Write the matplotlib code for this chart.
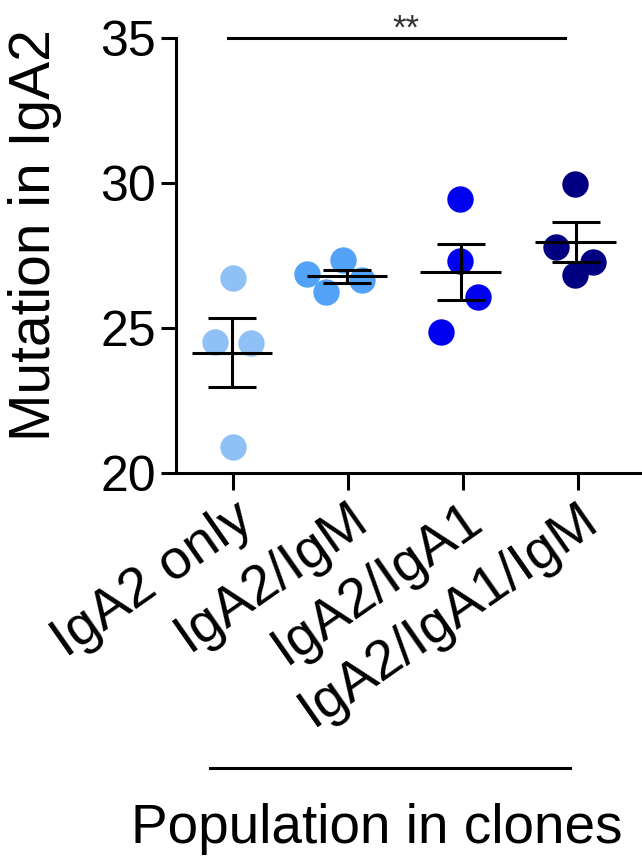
import numpy as np
import matplotlib
matplotlib.use("Agg")
import matplotlib.pyplot as plt
from matplotlib.lines import Line2D

plt.rcParams['font.family'] = ['Liberation Sans', 'DejaVu Sans']

# data
groups = ['IgA2 only', 'IgA2/IgM', 'IgA2/IgA1', 'IgA2/IgA1/IgM']
mutations = [
    [26.72, 24.52, 24.48, 20.90],
    [26.86, 27.34, 26.25, 26.66],
    [29.44, 27.32, 26.08, 24.87],
    [29.97, 27.80, 27.29, 26.83],
]
colors = ['#8fc1f7', '#52a2f7', '#0000f0', '#000080']
yticks = [20, 25, 30, 35]

# layout of the scatter (jitter within a column)
jitter = [
    [0.0, -0.16, 0.16, 0.0],
    [-0.36, -0.04, -0.19, 0.12],
    [-0.03, -0.03, 0.13, -0.19],
    [-0.03, -0.19, 0.13, -0.03],
]
bar_shift = [-0.01, -0.01, -0.02, -0.02]

fig = plt.figure(figsize=(6.42, 8.56), dpi=100)
ax = fig.add_axes([175.5 / 642, (856 - 473) / 856, (647 - 175.5) / 642, (473 - 38) / 856])

lw = 2.2
for i, vals in enumerate(mutations):
    vals = np.array(vals)
    ax.plot(i + np.array(jitter[i]), vals, 'o', ms=19, mec='none', color=colors[i], zorder=2)
    m = vals.mean()
    sem = vals.std(ddof=1) / np.sqrt(len(vals))
    c = i + bar_shift[i]
    ax.hlines(m, c - 0.35, c + 0.35, color='black', lw=lw, zorder=3)
    ax.vlines(c, m - sem, m + sem, color='black', lw=lw, zorder=3)
    ax.hlines([m - sem, m + sem], c - 0.21, c + 0.21, color='black', lw=lw, zorder=3)

ax.set_xlim(-0.5, 3.6)
ax.set_ylim(20, 35)
ax.set_yticks(yticks)
ax.set_xticks(range(len(groups)))
ax.set_xticklabels(groups, rotation=35, ha='right', va='top', rotation_mode='anchor', fontsize=40)
ax.tick_params(axis='y', labelsize=36, length=11, width=lw, pad=3)
ax.tick_params(axis='x', length=12, width=lw, pad=2)
for s in ['top', 'right']:
    ax.spines[s].set_visible(False)
for s in ['left', 'bottom']:
    ax.spines[s].set_linewidth(lw)

# significance bar
ax.plot([-0.04, 2.89], [35, 35], color='black', lw=lw, clip_on=False)
ax.text(1.5, 34.97, '**', ha='center', va='baseline', fontsize=25, color='#333333', clip_on=False)

fig.text(35 / 642, (856 - 235) / 856, 'Mutation in IgA2', rotation=90, ha='center', va='center', fontsize=41)

fig.add_artist(Line2D([210 / 642, 570 / 642], [(856 - 768) / 856] * 2, color='black', lw=lw))
fig.text(377 / 642, (856 - 843) / 856, 'Population in clones', ha='center', va='baseline', fontsize=39.5)

fig.savefig('out.png', dpi=100)
